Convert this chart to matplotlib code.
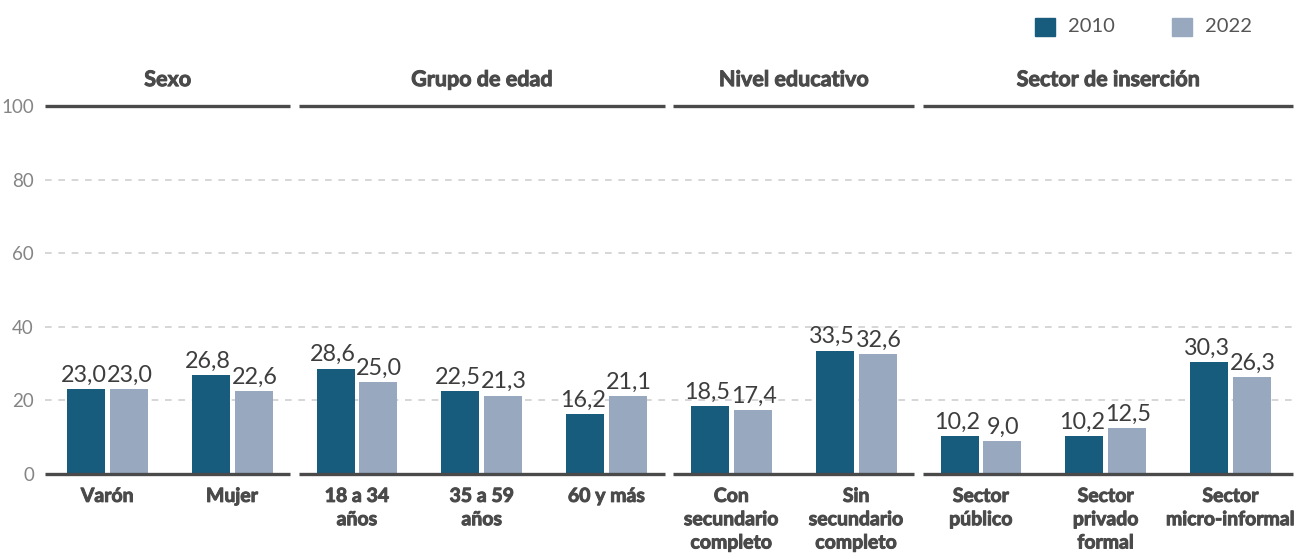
import matplotlib
matplotlib.use("Agg")
import matplotlib.pyplot as plt
import matplotlib.patheffects as pe
import numpy as np

categories = ["Varón", "Mujer", "18 a 34\naños", "35 a 59\naños", "60 y más",
              "Con\nsecundario\ncompleto", "Sin\nsecundario\ncompleto",
              "Sector\npúblico", "Sector\nprivado\nformal", "Sector\nmicro-informal"]
v2010 = [23.0, 26.8, 28.6, 22.5, 16.2, 18.5, 33.5, 10.2, 10.2, 30.3]
v2022 = [23.0, 22.6, 25.0, 21.3, 21.1, 17.4, 32.6, 9.0, 12.5, 26.3]
groups = ["Sexo", "Grupo de edad", "Nivel educativo", "Sector de inserción"]
group_sizes = [2, 3, 2, 3]
series_names = ["2010", "2022"]
yticks = [0, 20, 40, 60, 80, 100]

C1 = "#175b7d"
C2 = "#98a9bf"
DARK = "#4a4a4a"
FONT = "Lato"

plt.rcParams["font.family"] = [FONT, "DejaVu Sans"]
bold_fx = [pe.withStroke(linewidth=0.7, foreground=DARK)]

fig = plt.figure(figsize=(13, 5.56), dpi=100)
ax = fig.add_axes([45 / 1300, 82 / 556, 1248 / 1300, 368 / 556])

x = np.arange(len(categories))
w = 0.304
off = 0.172
b1 = ax.bar(x - off, v2010, w, color=C1, zorder=3)
b2 = ax.bar(x + off, v2022, w, color=C2, zorder=3)

def fmt(v):
    return f"{v:.1f}".replace(".", ",")

for bars, vals, dx in ((b1, v2010, -1.8), (b2, v2022, 0.6)):
    for r, v in zip(bars, vals):
        ax.annotate(fmt(v), (r.get_x() + r.get_width() / 2, v), xytext=(dx, 2.5),
                    textcoords="offset points", ha="center", va="bottom",
                    fontsize=16.8, color="#3d3d3d", zorder=4)

ax.set_xlim(-0.5, 9.5)
ax.set_ylim(0, 100)
for s in ax.spines.values():
    s.set_visible(False)
ax.set_yticks(yticks)
ax.set_yticklabels([str(t) for t in yticks])
ax.tick_params(axis="y", length=0, pad=8, labelsize=13.5, labelcolor="#858585")
ax.set_xticks([])
for t in yticks[1:-1]:
    ax.axhline(t, color="#d0d0d0", lw=1.2, ls=(0, (4, 4)), zorder=1)

# category labels
for xi, lab in zip(x, categories):
    ax.annotate(lab, (xi, 0), xytext=(0, -10), textcoords="offset points",
                ha="center", va="top", fontsize=14, fontweight="bold",
                color=DARK, linespacing=1.45, annotation_clip=False,
                path_effects=bold_fx)

# group lines and titles
gap = 0.035
start = 0
for g, n in zip(groups, group_sizes):
    x0 = start - 0.5 + (gap if start > 0 else 0)
    x1 = start + n - 0.5 - (gap if start + n < len(categories) else 0)
    for yy in (0, 100):
        ax.plot([x0, x1], [yy, yy], color=DARK, lw=2.4, solid_capstyle="butt",
                clip_on=False, zorder=5)
    ax.annotate(g, ((x0 + x1) / 2, 100), xytext=(0, 19), textcoords="offset points",
                ha="center", va="center", fontsize=15.5, fontweight="bold",
                color=DARK, annotation_clip=False, path_effects=bold_fx)
    start += n

# legend
for px, col, name in ((1035, C1, series_names[0]), (1172, C2, series_names[1])):
    fig.patches.append(plt.Rectangle((px / 1300, 1 - 36 / 556), 20 / 1300, 18 / 556,
                                     transform=fig.transFigure, color=col))
    fig.text((px + 33) / 1300, 1 - 27 / 556, name, ha="left", va="center",
             fontsize=14.5, color="#555555")

fig.savefig("out.png", dpi=100)
